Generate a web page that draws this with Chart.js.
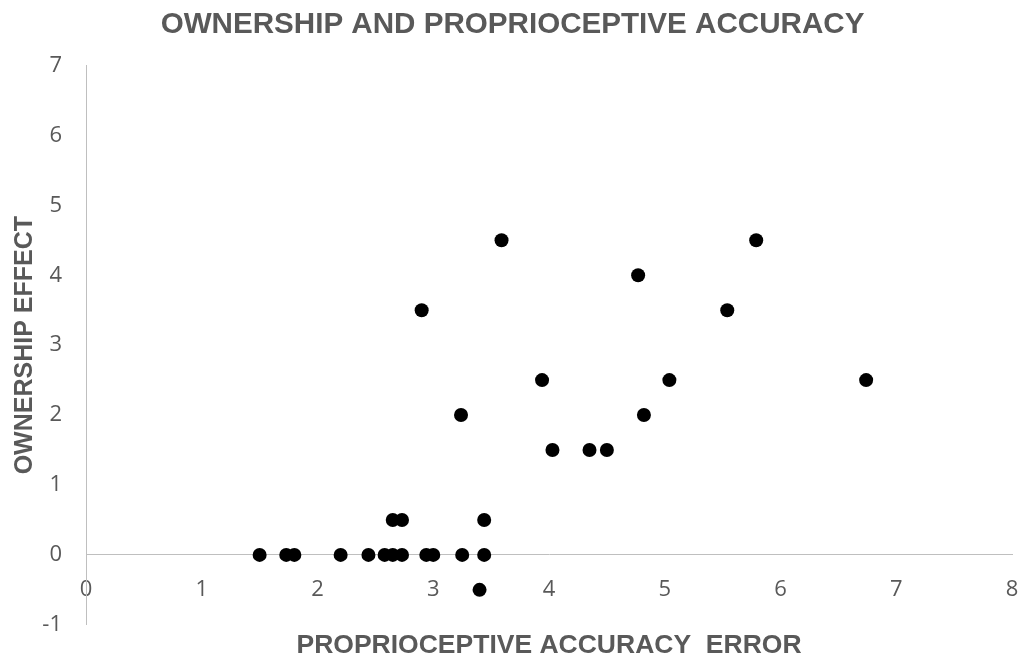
<!DOCTYPE html>
<html>
<head>
<meta charset="utf-8">
<script src="https://cdn.jsdelivr.net/npm/chart.js@4/dist/chart.umd.min.js"></script>
<style>
  html, body { margin: 0; padding: 0; background: #ffffff; }
  #wrap { width: 1025px; height: 662px; }
</style>
</head>
<body>
<div id="wrap"><canvas id="c" width="1025" height="662"></canvas></div>
<script>
const chartTitle = "OWNERSHIP AND PROPRIOCEPTIVE ACCURACY";
const xAxisTitle = "PROPRIOCEPTIVE ACCURACY  ERROR";
const yAxisTitle = "OWNERSHIP EFFECT";
const xTicks = [0, 1, 2, 3, 4, 5, 6, 7, 8];
const yTicks = [-1, 0, 1, 2, 3, 4, 5, 6, 7];
const errorValues =     [1.5, 1.73, 1.8, 2.2, 2.44, 2.58, 2.65, 2.73, 2.94, 3.0, 3.25, 3.44, 2.65, 2.73, 3.44, 3.4, 2.9, 3.24, 4.03, 4.35, 4.5, 4.82, 3.94, 5.04, 6.74, 5.54, 4.77, 3.59, 5.79];
const ownershipValues = [0,   0,    0,   0,   0,    0,    0,    0,    0,    0,   0,    0,    0.5,  0.5,  0.5,  -0.5, 3.5, 2,    1.5,  1.5,  1.5, 2,    2.5,  2.5,  2.5,  3.5,  4,    4.5,  4.5];

const points = errorValues.map((x, i) => ({ x: x, y: ownershipValues[i] }));
const textColor = '#595959';
const axisColor = '#bfbfbf';

new Chart(document.getElementById('c'), {
  type: 'scatter',
  data: {
    datasets: [{
      data: points,
      backgroundColor: '#000000',
      borderColor: '#000000',
      borderWidth: 0,
      pointRadius: 7,
      pointHoverRadius: 7
    }]
  },
  options: {
    responsive: false,
    animation: false,
    devicePixelRatio: 1,
    layout: { padding: { left: 0, right: 0, top: 0, bottom: 0 } },
    plugins: {
      legend: { display: false },
      tooltip: { enabled: false },
      title: {
        display: true,
        text: chartTitle,
        color: textColor,
        font: { family: 'Liberation Sans', size: 29.6, weight: 'bold' },
        padding: { top: 7, bottom: 23 }
      }
    },
    scales: {
      x: {
        type: 'linear',
        position: { y: 0 },
        min: xTicks[0],
        max: xTicks[xTicks.length - 1],
        afterBuildTicks: (s) => { s.ticks = xTicks.map(v => ({ value: v })); },
        afterFit: (s) => { s.paddingLeft = 0; s.paddingRight = 13; },
        grid: { display: false, drawTicks: false },
        border: { display: true, color: axisColor, width: 1 },
        ticks: {
          color: textColor,
          font: { family: 'Open Sans', size: 22 },
          padding: 22,
          maxRotation: 0,
          autoSkip: false
        },
        title: { display: false }
      },
      xTitle: {
        type: 'linear',
        axis: 'x',
        position: 'bottom',
        min: 0,
        max: 8,
        afterFit: (s) => { s.paddingLeft = 0; s.paddingRight = 0; },
        grid: { display: false, drawTicks: false },
        border: { display: false },
        ticks: { display: false },
        title: {
          display: true,
          text: xAxisTitle,
          color: textColor,
          font: { family: 'Liberation Sans', size: 26.5, weight: 'bold' },
          padding: { top: 5, bottom: 0 }
        }
      },
      y: {
        type: 'linear',
        position: 'left',
        min: yTicks[0],
        max: yTicks[yTicks.length - 1],
        afterBuildTicks: (s) => { s.ticks = yTicks.map(v => ({ value: v })); },
        afterFit: (s) => { s.width = 86; },
        grid: { display: false, drawTicks: false },
        border: { display: true, color: axisColor, width: 1 },
        ticks: {
          color: textColor,
          font: { family: 'Open Sans', size: 22 },
          padding: 24
        },
        title: {
          display: true,
          text: yAxisTitle,
          color: textColor,
          font: { family: 'Liberation Sans', size: 25, weight: 'bold' },
          padding: { top: 10, bottom: 0 }
        }
      }
    }
  }
});
</script>
</body>
</html>
